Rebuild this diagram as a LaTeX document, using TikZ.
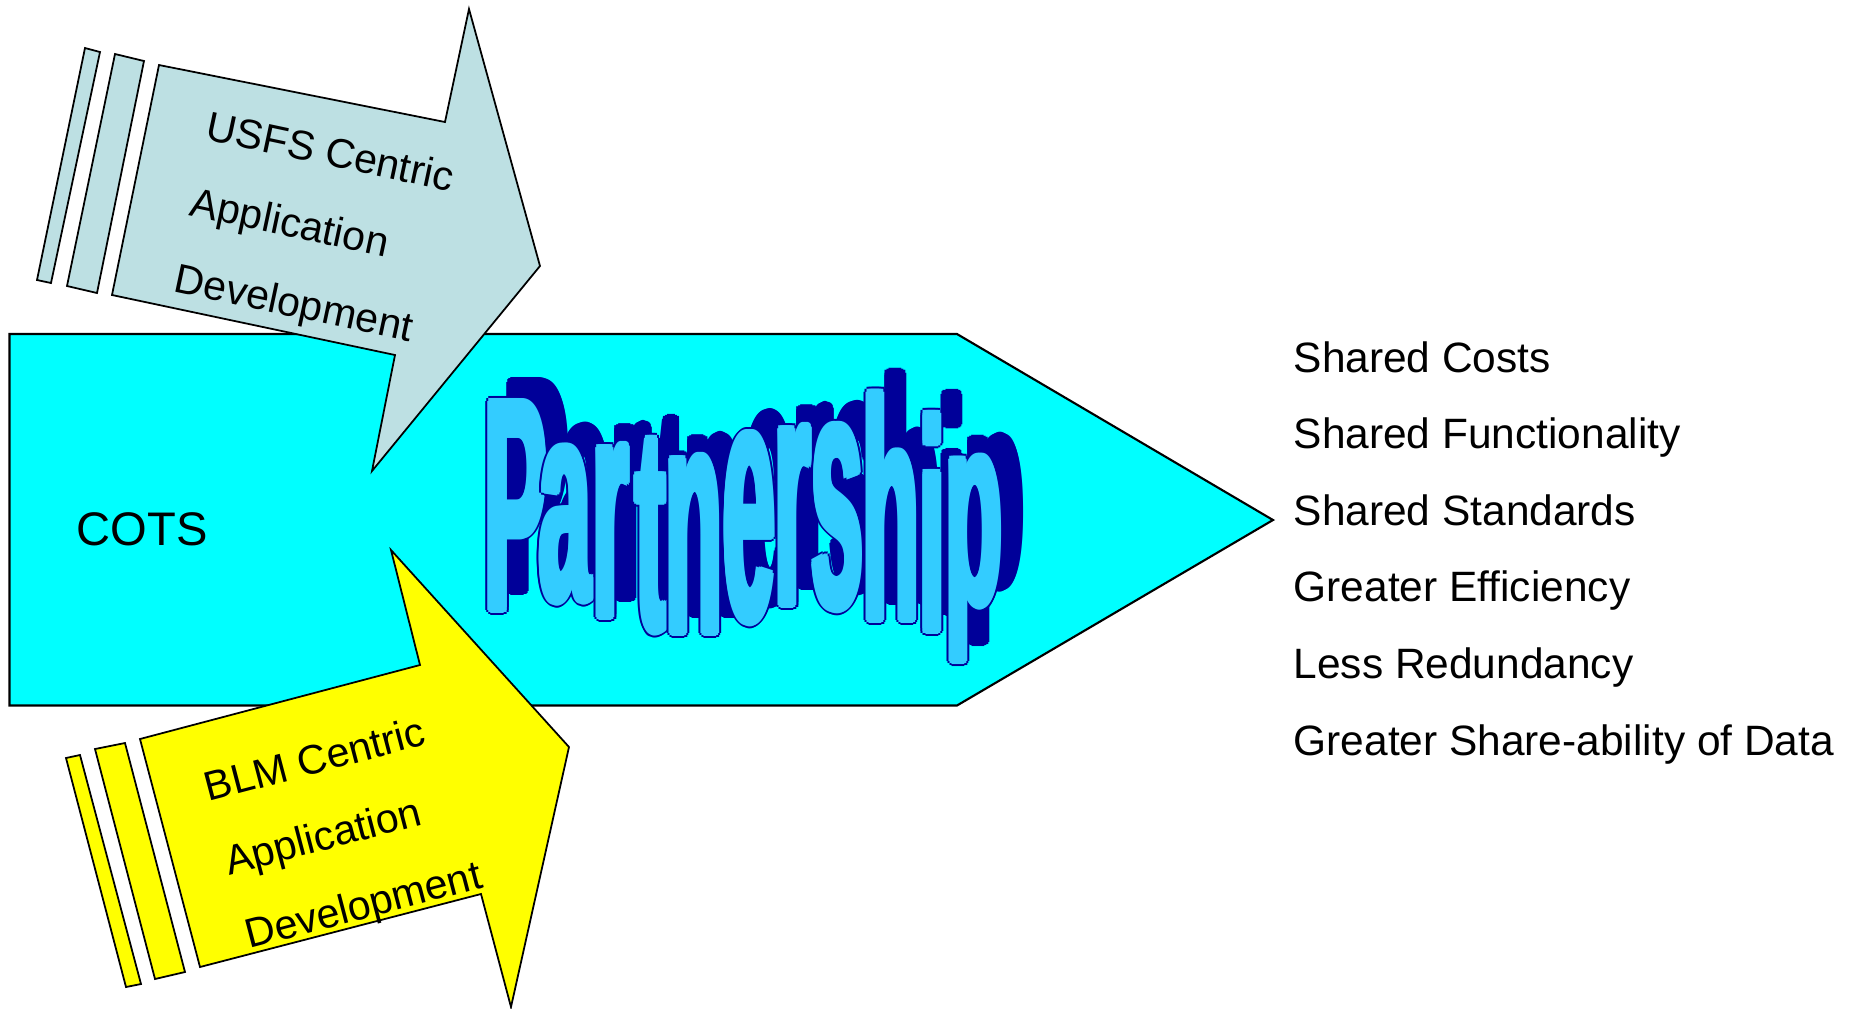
\documentclass[tikz,border=0pt]{standalone}
\usepackage{fontspec}
\setmainfont{Liberation Sans}
\usepackage{xcolor}
\usepackage{tikz}
\definecolor{cotscyan}{RGB}{0,255,255}
\definecolor{usfsgray}{RGB}{189,224,227}
\definecolor{blmyellow}{RGB}{255,255,0}
\definecolor{wordblue}{RGB}{51,204,255}
\definecolor{wordnavy}{RGB}{0,0,153}

% letter / centre x / baseline y / vertical stretch
\def\wordletters{P/516/610/3.26, a/565/600/3.08, r/611/617/3.45, t/651/630/3.16,
  n/694/633/3.55, e/749/620/3.75, r/793/605/3.59, s/837/607/3.65,
  h/891/620/3.38, i/932/631/3.23, p/974/604/2.95}

\begin{document}
\begin{tikzpicture}[x=0.01cm, y=-0.01cm,
    shape border/.style={draw=black, line width=0.5pt, line join=miter},
    usfs/.style={shape border, fill=usfsgray},
    blm/.style={shape border, fill=blmyellow},
    armtxt/.style={anchor=base west, inner sep=0pt, font=\fontsize{11.7}{14}\selectfont},
    listtxt/.style={anchor=base west, inner sep=0pt, font=\fontsize{12.07}{14}\selectfont},
    wordletter/.style={anchor=base, inner sep=0pt, font=\fontsize{26.5}{30}\selectfont\bfseries},
    shadowletter/.style={wordletter, text=wordnavy},
    rimletter/.style={wordletter, text=wordnavy},
    frontletter/.style={wordletter, text=wordblue}]
    \useasboundingbox (0,0) rectangle (1853,1008);

    % COTS pentagon
    \draw[fill=cotscyan, line width=0.6pt] (9.5,334) -- (957,334) -- (1273,520) -- (957,705.5) -- (9.5,705.5) -- cycle;
    \node[inner sep=0pt, font=\fontsize{13.4}{16}\selectfont] (cots) at (142,529.5) {COTS};

    % Partnership word art: shadow first, then each letter with its rim
    \foreach \ch/\cx/\by/\ys [count=\k] in \wordletters
        \foreach \a [count=\j] in {0,30,...,330}
            \node[shadowletter, yscale=\ys] (shadow\k-\j) at ({\cx+20+4.5*cos(\a)},{\by-19+4.5*sin(\a)}) {\ch};
    \foreach \ch/\cx/\by/\ys [count=\k] in \wordletters {
        \foreach \a [count=\j] in {0,30,...,330}
            \node[rimletter, yscale=\ys] (rim\k-\j) at ({\cx+5*cos(\a)},{\by+5*sin(\a)}) {\ch};
        \foreach \a [count=\j] in {0,45,...,315}
            \node[frontletter, yscale=\ys] (fill\k-\j) at ({\cx+3*cos(\a)},{\by+3*sin(\a)}) {\ch};
        \node[frontletter, yscale=\ys] (letter\k) at (\cx,\by) {\ch};
    }

    % USFS arrow
    \draw[usfs] (85,48) -- (100,52) -- (51,283) -- (37,280) -- cycle;
    \draw[usfs] (115,54) -- (144,61) -- (97,293) -- (67,286) -- cycle;
    \draw[usfs] (159,65) -- (445,122) -- (469,9) -- (540,266) -- (372,471) -- (395,355) -- (112,295) -- cycle;
    \node[armtxt, rotate=-12] (usfs1) at (204,139) {USFS Centric};
    \node[armtxt, rotate=-12] (usfs2) at (188,215) {Application};
    \node[armtxt, rotate=-12] (usfs3) at (172,291) {Development};

    % BLM arrow
    \draw[blm] (66,758) -- (80,755) -- (141,984) -- (126,987) -- cycle;
    \draw[blm] (95,749) -- (125,743) -- (185,972) -- (155,979) -- cycle;
    \draw[blm] (140,739) -- (420,665) -- (391,550) -- (569,747) -- (511,1007) -- (481,894) -- (200,967) -- cycle;
    \node[armtxt, rotate=14.7] (blm1) at (208,802) {BLM Centric};
    \node[armtxt, rotate=14.7] (blm2) at (228.5,875.5) {Application};
    \node[armtxt, rotate=14.7] (blm3) at (249,949) {Development};

    % benefits
    \foreach \txt [count=\i] in {Shared Costs, Shared Functionality, Shared Standards,
        Greater Efficiency, Less Redundancy, Greater Share-ability of Data}
        \node[listtxt] (gain\i) at ({1293},{372+76.6*(\i-1)}) {\txt};
\end{tikzpicture}
\end{document}
